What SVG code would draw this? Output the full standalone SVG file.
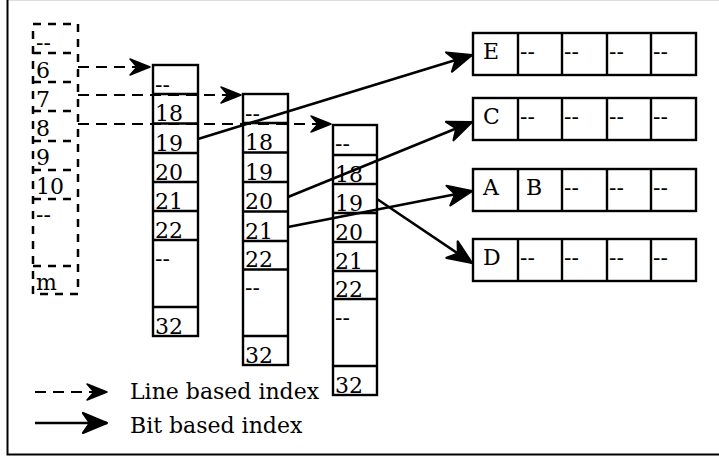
<svg xmlns="http://www.w3.org/2000/svg" width="719" height="456" viewBox="0 0 719 456">
<style>
text{font-family:"DejaVu Serif","Liberation Serif",serif;font-size:22px;fill:#000}
.cell{fill:#fff;stroke:#000;stroke-width:2.4}
.ln{stroke:#000;stroke-width:2.4;fill:none}
.dcell{fill:none;stroke:#000;stroke-width:2.5;stroke-dasharray:8 7}
.dash{stroke:#000;stroke-width:2.2;fill:none;stroke-dasharray:11 7}
.solid{stroke:#000;stroke-width:2.6;fill:none}
</style>
<defs>
<marker id="hs" viewBox="-27 -13 29 26" refX="0" refY="0" markerWidth="29" markerHeight="26" markerUnits="userSpaceOnUse" orient="auto">
<path d="M0,0 L-24,-10 L-17,0 L-24,10 Z" fill="#000" stroke="#000" stroke-width="2.2" stroke-linejoin="round"/>
</marker>
<marker id="hd" viewBox="-24 -11 26 22" refX="0" refY="0" markerWidth="26" markerHeight="22" markerUnits="userSpaceOnUse" orient="auto">
<path d="M0,0 L-20,-8 L-13,0 L-20,8 Z" fill="#000" stroke="#000" stroke-width="1.5" stroke-linejoin="round"/>
</marker>
</defs>
<rect width="719" height="456" fill="#fff"/>
<line x1="7" y1="0.5" x2="719" y2="0.5" stroke="#ddd" stroke-width="1"/>
<path d="M7.5,0 V454.5 H719" fill="none" stroke="#000" stroke-width="2"/>

<g id="line-table">
<rect class="dcell" x="33" y="24" width="45" height="270"/>
<path class="dcell" d="M33,53H78M33,82H78M33,111H78M33,141H78M33,170H78M33,199H78M33,266H78"/>
<text x="36" y="50">--</text>
<text x="36" y="78">6</text>
<text x="36" y="107">7</text>
<text x="36" y="136">8</text>
<text x="36" y="165">9</text>
<text x="36" y="194">10</text>
<text x="36" y="222">--</text>
<text x="36" y="290">m</text>
</g>

<g id="col1">
<rect class="cell" x="153" y="65" width="45" height="271"/>
<path class="ln" d="M153,94H198M153,123.5H198M153,153H198M153,182H198M153,211H198M153,240H198M153,307H198"/>
<text x="155" y="91.5">--</text>
<text x="155" y="121">18</text>
<text x="155" y="150.5">19</text>
<text x="155" y="179.5">20</text>
<text x="155" y="209">21</text>
<text x="155" y="237.5">22</text>
<text x="155" y="265.5">--</text>
<text x="155" y="333.5">32</text>
</g>

<g id="col2">
<rect class="cell" x="243" y="94" width="45" height="271"/>
<path class="ln" d="M243,123H288M243,152.5H288M243,182H288M243,211.5H288M243,241H288M243,269.5H288M243,336H288"/>
<text x="245" y="121">--</text>
<text x="245" y="150">18</text>
<text x="245" y="179.5">19</text>
<text x="245" y="209">20</text>
<text x="245" y="238.5">21</text>
<text x="245" y="267">22</text>
<text x="245" y="295">--</text>
<text x="245" y="362.5">32</text>
</g>

<g id="col3">
<rect class="cell" x="333" y="125" width="44" height="270"/>
<path class="ln" d="M333,155H377M333,184H377M333,213H377M333,242H377M333,271H377M333,299H377M333,366H377"/>
<text x="335" y="151">--</text>
<text x="335" y="181.5">18</text>
<text x="335" y="210.5">19</text>
<text x="335" y="239.5">20</text>
<text x="335" y="268.5">21</text>
<text x="335" y="296.5">22</text>
<text x="335" y="324.5">--</text>
<text x="335" y="392.5">32</text>
</g>

<g id="row-E">
<rect class="cell" x="473" y="33" width="223" height="42"/>
<path class="ln" d="M518,33V75M562,33V75M607,33V75M651,33V75"/>
<text x="483" y="59">E</text>
<text x="520" y="59">--</text><text x="564" y="59">--</text><text x="609" y="59">--</text><text x="653" y="59">--</text>
</g>
<g id="row-C">
<rect class="cell" x="473" y="98" width="223" height="42"/>
<path class="ln" d="M518,98V140M562,98V140M607,98V140M651,98V140"/>
<text x="483" y="124">C</text>
<text x="520" y="124">--</text><text x="564" y="124">--</text><text x="609" y="124">--</text><text x="653" y="124">--</text>
</g>
<g id="row-AB">
<rect class="cell" x="473" y="169" width="223" height="42"/>
<path class="ln" d="M518,169V211M562,169V211M607,169V211M651,169V211"/>
<text x="483" y="195">A</text>
<text x="526" y="195">B</text>
<text x="564" y="195">--</text><text x="609" y="195">--</text><text x="653" y="195">--</text>
</g>
<g id="row-D">
<rect class="cell" x="473" y="239" width="223" height="42"/>
<path class="ln" d="M518,239V281M562,239V281M607,239V281M651,239V281"/>
<text x="483" y="265">D</text>
<text x="520" y="265">--</text><text x="564" y="265">--</text><text x="609" y="265">--</text><text x="653" y="265">--</text>
</g>

<g id="connectors">
<path class="dash" d="M78,67H150" marker-end="url(#hd)"/>
<path class="dash" d="M78,95H241" marker-end="url(#hd)"/>
<path class="dash" d="M78,124H331" marker-end="url(#hd)"/>
<path class="solid" d="M198,139L472,55" marker-end="url(#hs)"/>
<path class="solid" d="M288,197L472,122" marker-end="url(#hs)"/>
<path class="solid" d="M288,227L472,191" marker-end="url(#hs)"/>
<path class="solid" d="M377,199L472,263" marker-end="url(#hs)"/>
</g>

<g id="legend">
<path class="dash" d="M35,392H107" marker-end="url(#hd)"/>
<path class="solid" d="M35,423H107" marker-end="url(#hs)"/>
<text x="130" y="399">Line based index</text>
<text x="130" y="433">Bit based index</text>
</g>
</svg>
